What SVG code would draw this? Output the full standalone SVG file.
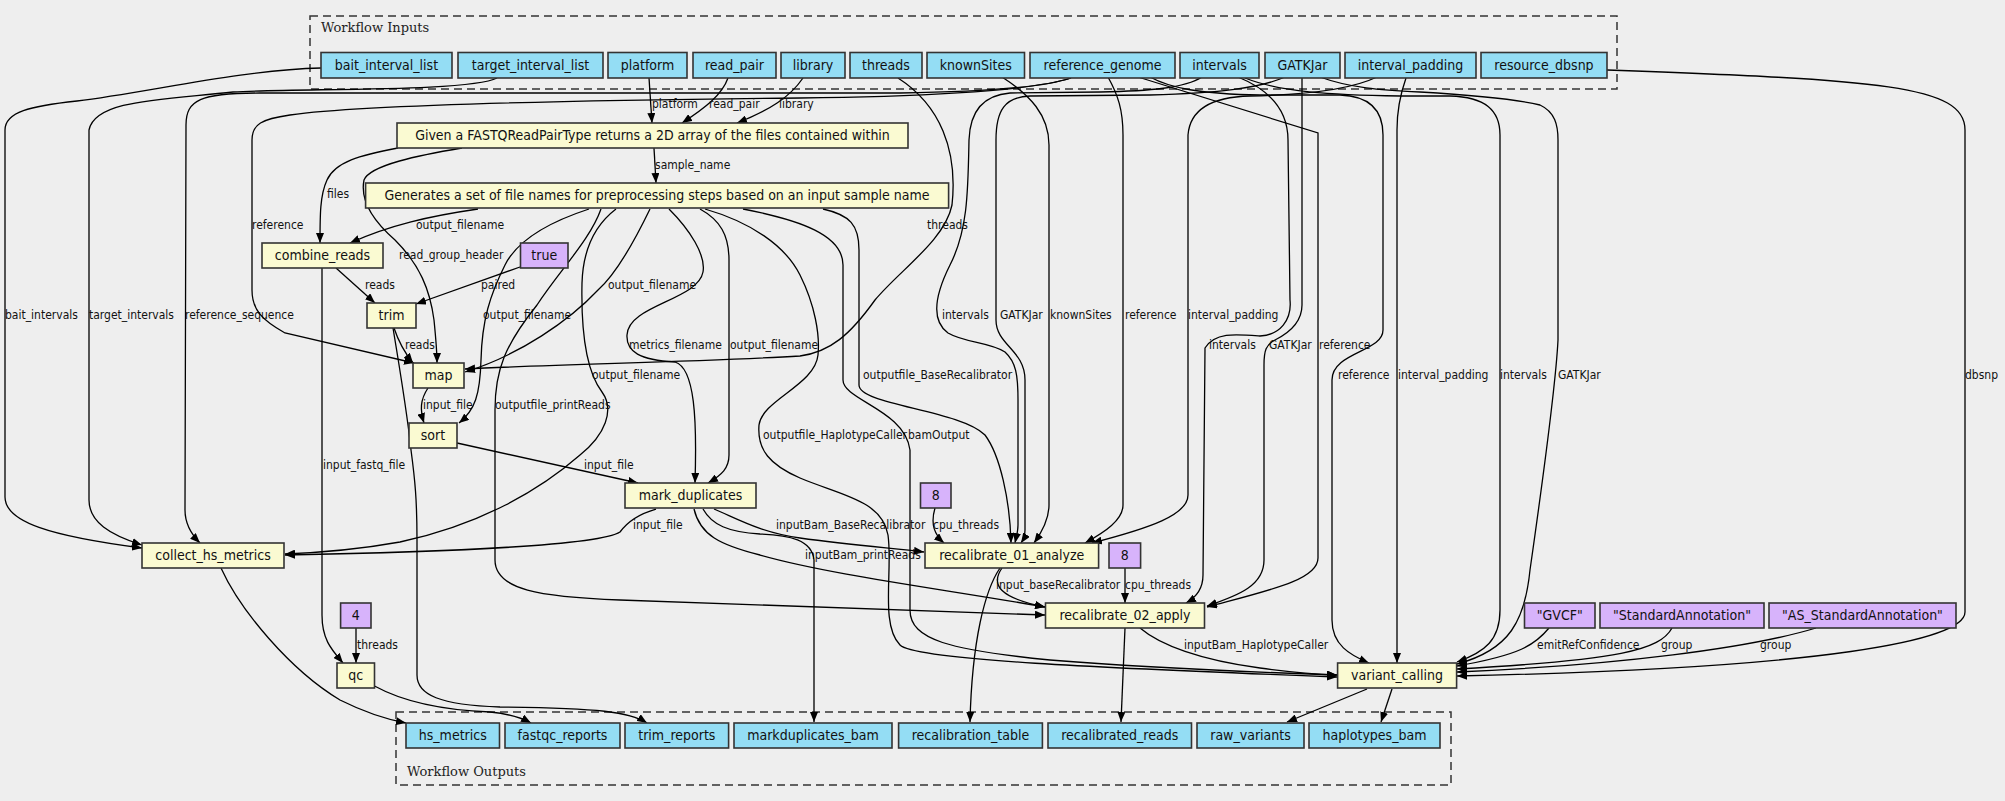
<svg xmlns="http://www.w3.org/2000/svg" width="2005" height="801" viewBox="0 0 2005 801">
<defs>
<marker id="ah" markerUnits="userSpaceOnUse" markerWidth="11" markerHeight="8" refX="10" refY="4" orient="auto">
<path d="M0,0 L10,4 L0,8 z" fill="#000"/>
</marker>
<style>
.bg{fill:#eeeeee}
.cl{fill:none;stroke:#333;stroke-width:1.5;stroke-dasharray:8,5}
.ct{font-family:"DejaVu Serif","Liberation Serif",serif;font-size:13px;fill:#222}
.n rect{stroke:#333;stroke-width:1.6}
.in rect{fill:#94ddf4}
.st rect{fill:#fafad2}
.co rect{fill:#d7b3fb}
.n text{font-family:"DejaVu Sans Condensed","DejaVu Sans",sans-serif;font-stretch:condensed;font-size:14px;text-anchor:middle;fill:#111}
#edges path{fill:none;stroke:#000;stroke-width:1.3;marker-end:url(#ah)}
#edges text{font-family:"DejaVu Sans Condensed","DejaVu Sans",sans-serif;font-stretch:condensed;font-size:12px;fill:#111}
</style>
</defs>
<rect class="bg" x="0" y="0" width="2005" height="801"/>
<g id="cluster_inputs">
<rect class="cl" x="310" y="16" width="1307" height="73"/>
<text class="ct" x="321" y="32">Workflow Inputs</text>
</g>
<g id="cluster_outputs">
<rect class="cl" x="396" y="712" width="1055" height="73"/>
<text class="ct" x="407" y="776">Workflow Outputs</text>
</g>
<g id="edges">
<path d="M321,68 C240,70 150,92 77,101 C30,106 5,112 5,130 L5,497 C5,522 50,536 142,548"/>
<text x="5" y="319">bait_intervals</text>
<path d="M497,78 C470,92 300,88 233,92 C160,100 95,100 89,130 L89,500 C89,522 110,535 142,545"/>
<text x="89" y="319">target_intervals</text>
<path d="M1071,78 C1040,88 980,92 900,93 L260,93 C200,93 186,100 186,125 L185,510 C185,525 192,535 200,543"/>
<text x="185" y="319">reference_sequence</text>
<path d="M1071,78 C1030,92 900,97 800,98 C600,100 360,105 290,115 C262,119 252,124 252,140 L252,290 C252,310 262,320 285,333 L414,363"/>
<text x="252" y="229">reference</text>
<path d="M649,78 L652,123"/>
<text x="652" y="108">platform</text>
<path d="M728,78 C722,95 705,108 682,123"/>
<text x="709" y="108">read_pair</text>
<path d="M803,78 C790,97 770,110 737,123"/>
<text x="779" y="108">library</text>
<path d="M654,148 L656,183"/>
<text x="655" y="169">sample_name</text>
<path d="M398,148 C360,155 335,162 327,180 C320,195 320,215 320,243"/>
<text x="327" y="198">files</text>
<path d="M462,148 C420,155 370,165 364,180 C360,200 372,220 395,240 C420,265 430,290 434,320 C436,340 437,350 437,363"/>
<text x="399" y="259">read_group_header</text>
<path d="M478,209 C430,216 390,225 350,243"/>
<text x="416" y="229">output_filename</text>
<path d="M520,267 L416,304"/>
<text x="481" y="289">paired</text>
<path d="M336,268 L375,303"/>
<text x="365" y="289">reads</text>
<path d="M322,268 L322,615 C322,640 332,650 343,663"/>
<text x="323" y="469">input_fastq_file</text>
<path d="M394,328 C398,340 404,352 413,363"/>
<text x="405" y="349">reads</text>
<path d="M393,328 C400,370 408,420 411,450 C415,480 417,500 417,540 L417,675 C417,695 440,705 500,707 C600,708 630,712 647,723"/>
<path d="M428,388 C420,400 420,410 424,423"/>
<text x="423" y="409">input_file</text>
<path d="M457,443 L638,483"/>
<text x="584" y="469">input_file</text>
<path d="M650,209 C635,240 615,275 598,290 C570,320 520,355 465,372"/>
<text x="608" y="289">output_filename</text>
<path d="M898,78 C940,105 958,150 952,205 C945,240 900,270 875,300 C850,335 830,352 800,356 C700,362 560,364 465,369"/>
<text x="927" y="229">threads</text>
<path d="M589,209 C540,225 515,245 505,265 C490,295 482,320 481,360 C480,395 475,410 459,423"/>
<text x="483" y="319">output_filename</text>
<path d="M616,209 C595,225 583,250 582,283 C581,330 585,370 602,392 C615,410 605,435 580,455 C540,490 480,525 400,542 C350,551 310,553 285,554"/>
<text x="592" y="379">output_filename</text>
<path d="M601,209 C590,240 560,270 537,305 C505,345 495,370 495,410 L495,560 C495,590 540,597 620,600 C800,607 950,612 1045,615"/>
<text x="495" y="409">outputfile_printReads</text>
<path d="M669,209 C690,230 706,255 703,272 C698,300 628,305 627,335 C626,352 640,360 675,362 C695,368 697,420 695,483"/>
<text x="629" y="349">metrics_filename</text>
<path d="M700,209 C720,220 729,235 729,260 L729,455 C729,468 722,475 708,483"/>
<text x="730" y="349">output_filename</text>
<path d="M705,209 C750,222 785,245 800,275 C815,305 820,335 818,355 C815,385 762,400 759,425 C757,450 770,465 800,478 C840,495 882,500 888,535 C893,570 880,625 900,645 C915,660 1100,668 1337,677"/>
<text x="763" y="439">outputfile_HaplotypeCaller</text>
<path d="M743,209 C800,220 843,235 843,265 L843,380 C843,400 905,410 910,450 L910,610 C910,640 950,650 1050,660 C1150,668 1250,672 1337,675"/>
<text x="908" y="439">bamOutput</text>
<path d="M823,209 C850,215 859,225 859,250 L859,385 C859,405 960,410 985,435 C1000,455 1010,500 1011,543"/>
<text x="863" y="379">outputfile_BaseRecalibrator</text>
<path d="M935,508 C930,525 935,535 944,543"/>
<text x="933" y="529">cpu_threads</text>
<path d="M656,509 C635,515 625,525 620,532 C600,545 450,552 285,555"/>
<text x="633" y="529">input_file</text>
<path d="M714,509 C740,520 760,532 800,538 C850,545 890,548 924,552"/>
<text x="776" y="529">inputBam_BaseRecalibrator</text>
<path d="M694,509 C700,535 720,545 760,555 C830,575 950,590 1045,607"/>
<text x="805" y="559">inputBam_printReads</text>
<path d="M703,509 C712,525 728,532 760,534 C790,535 812,540 814,560 L814,722"/>
<path d="M221,568 C240,610 290,670 340,700 C370,715 390,720 406,723"/>
<path d="M356,628 L356,663"/>
<text x="357" y="649">threads</text>
<path d="M374.5,686 C400,700 440,710 490,712 C510,714 522,718 531,723"/>
<path d="M1002,568 C990,585 1000,598 1045,607"/>
<text x="996" y="589">input_baseRecalibrator</text>
<path d="M1000,568 C985,590 972,640 970,722"/>
<path d="M1125,568 L1125,603"/>
<text x="1125" y="589">cpu_threads</text>
<path d="M1125,628 L1121,722"/>
<path d="M1140,628 C1160,645 1200,660 1260,668 C1290,672 1310,674 1337,675"/>
<text x="1184" y="649">inputBam_HaplotypeCaller</text>
<path d="M1367,689 L1287,722"/>
<path d="M1392,689 L1381,722"/>
<path d="M1549,628 C1535,645 1520,655 1457,666"/>
<text x="1537" y="649">emitRefConfidence</text>
<path d="M1672,628 C1660,650 1620,660 1457,669"/>
<text x="1661" y="649">group</text>
<path d="M1816,628 C1750,648 1620,665 1457,672"/>
<text x="1760" y="649">group</text>
<path d="M1607,70 C1880,80 1965,85 1965,130 L1965,612 C1965,640 1830,668 1457,676"/>
<text x="1965" y="379">dbsnp</text>
<path d="M1202,77 C1185,88 1150,91 1100,92 L1010,93 C985,95 970,110 969,140 C968,190 968,230 950,265 C935,295 930,320 948,333 C965,343 990,342 1005,352 C1016,362 1018,375 1018,400 L1018,525 C1018,532 1016,538 1015,543"/>
<text x="942" y="319">intervals</text>
<path d="M1285,77 C1260,88 1220,93 1150,95 L1030,96 C1005,97 996,110 996,140 L996,320 C996,345 1025,350 1025,380 L1025,530 C1025,536 1023,540 1021,543"/>
<text x="1000" y="319">GATKJar</text>
<path d="M1002,77 C1030,95 1049,115 1049,145 L1049,505 C1049,520 1042,532 1034,543"/>
<text x="1050" y="319">knownSites</text>
<path d="M1108,77 C1118,95 1123,110 1123,135 L1123,505 C1123,520 1105,532 1085,543"/>
<text x="1125" y="319">reference</text>
<path d="M1377,77 C1350,90 1300,95 1250,96 C1210,97 1190,110 1188,135 L1188,495 C1188,515 1150,528 1092,543"/>
<text x="1188" y="319">interval_padding</text>
<path d="M1138,77 L1318,133 L1318,558 C1318,580 1270,590 1207,607"/>
<text x="1319" y="349">reference</text>
<path d="M1238,77 C1270,90 1288,110 1288,140 L1290,300 C1292,320 1280,335 1260,336 C1235,334 1215,332 1205,348 L1203,575 C1203,590 1195,598 1186,603"/>
<text x="1209" y="349">intervals</text>
<path d="M1302,78 L1302,305 C1302,325 1285,335 1275,340 C1266,345 1264,350 1264,365 L1264,560 C1264,585 1240,595 1207,606"/>
<text x="1269" y="349">GATKJar</text>
<path d="M1150,77 C1170,88 1200,94 1260,95 L1340,95 C1370,96 1383,110 1383,135 L1383,330 C1383,352 1332,352 1332,380 L1332,620 C1332,645 1350,655 1369,663"/>
<text x="1338" y="379">reference</text>
<path d="M1406,78 C1400,95 1397,110 1397,130 L1397,663"/>
<text x="1398" y="379">interval_padding</text>
<path d="M1245,78 C1280,92 1330,95 1400,96 L1450,96 C1485,97 1500,110 1500,135 L1500,610 C1500,640 1485,652 1457,662"/>
<text x="1500" y="379">intervals</text>
<path d="M1320,77 C1350,88 1380,90 1420,92 C1470,95 1520,100 1540,105 C1555,112 1558,125 1558,140 L1558,340 C1556,380 1540,500 1530,570 C1525,620 1510,650 1457,664"/>
<text x="1558" y="379">GATKJar</text>
</g>
<g id="n_bait_interval_list" class="n in"><rect x="321" y="52.5" width="131" height="25.5"/><text x="386.5" y="70">bait_interval_list</text></g>
<g id="n_target_interval_list" class="n in"><rect x="458" y="52.5" width="145" height="25.5"/><text x="530.5" y="70">target_interval_list</text></g>
<g id="n_platform" class="n in"><rect x="608" y="52.5" width="79" height="25.5"/><text x="647.5" y="70">platform</text></g>
<g id="n_read_pair" class="n in"><rect x="693" y="52.5" width="83" height="25.5"/><text x="734.5" y="70">read_pair</text></g>
<g id="n_library" class="n in"><rect x="781" y="52.5" width="64" height="25.5"/><text x="813" y="70">library</text></g>
<g id="n_threads" class="n in"><rect x="850" y="52.5" width="72" height="25.5"/><text x="886" y="70">threads</text></g>
<g id="n_knownSites" class="n in"><rect x="927" y="52.5" width="97.5" height="25.5"/><text x="975.75" y="70">knownSites</text></g>
<g id="n_reference_genome" class="n in"><rect x="1030" y="52.5" width="145" height="25.5"/><text x="1102.5" y="70">reference_genome</text></g>
<g id="n_intervals" class="n in"><rect x="1180" y="52.5" width="79" height="25.5"/><text x="1219.5" y="70">intervals</text></g>
<g id="n_GATKJar" class="n in"><rect x="1265" y="52.5" width="75" height="25.5"/><text x="1302.5" y="70">GATKJar</text></g>
<g id="n_interval_padding" class="n in"><rect x="1345" y="52.5" width="131" height="25.5"/><text x="1410.5" y="70">interval_padding</text></g>
<g id="n_resource_dbsnp" class="n in"><rect x="1481" y="52.5" width="126" height="25.5"/><text x="1544" y="70">resource_dbsnp</text></g>
<g id="n_fastq" class="n st"><rect x="397" y="123" width="511" height="25"/><text x="652.5" y="140">Given a FASTQReadPairType returns a 2D array of the files contained within</text></g>
<g id="n_generate_names" class="n st"><rect x="365.6" y="183" width="583" height="25"/><text x="657" y="200">Generates a set of file names for preprocessing steps based on an input sample name</text></g>
<g id="n_combine_reads" class="n st"><rect x="262" y="243" width="121" height="25"/><text x="322.5" y="260">combine_reads</text></g>
<g id="n_true" class="n co"><rect x="520.5" y="243" width="47.5" height="25"/><text x="544.25" y="260">true</text></g>
<g id="n_trim" class="n st"><rect x="367" y="303" width="49" height="25"/><text x="391.5" y="320">trim</text></g>
<g id="n_map" class="n st"><rect x="413" y="363" width="51" height="25"/><text x="438.5" y="380">map</text></g>
<g id="n_sort" class="n st"><rect x="409" y="423" width="48" height="25"/><text x="433" y="440">sort</text></g>
<g id="n_mark_duplicates" class="n st"><rect x="625" y="483" width="131" height="25"/><text x="690.5" y="500">mark_duplicates</text></g>
<g id="n_const8a" class="n co"><rect x="920.5" y="483" width="30.5" height="25"/><text x="935.75" y="500">8</text></g>
<g id="n_collect_hs_metrics" class="n st"><rect x="142" y="543" width="142" height="25"/><text x="213" y="560">collect_hs_metrics</text></g>
<g id="n_recalibrate_01_analyze" class="n st"><rect x="925" y="543" width="173.6" height="25"/><text x="1011.8" y="560">recalibrate_01_analyze</text></g>
<g id="n_const8b" class="n co"><rect x="1109" y="543" width="31.6" height="25"/><text x="1124.8" y="560">8</text></g>
<g id="n_const4" class="n co"><rect x="340.6" y="603" width="30.4" height="25"/><text x="355.8" y="620">4</text></g>
<g id="n_recalibrate_02_apply" class="n st"><rect x="1045.5" y="603" width="159" height="25"/><text x="1125" y="620">recalibrate_02_apply</text></g>
<g id="n_gvcf" class="n co"><rect x="1524.5" y="603" width="70.5" height="25"/><text x="1559.75" y="620">"GVCF"</text></g>
<g id="n_std_annot" class="n co"><rect x="1600" y="603" width="164" height="25"/><text x="1682" y="620">"StandardAnnotation"</text></g>
<g id="n_as_std_annot" class="n co"><rect x="1769" y="603" width="187" height="25"/><text x="1862.5" y="620">"AS_StandardAnnotation"</text></g>
<g id="n_qc" class="n st"><rect x="337" y="663" width="37.5" height="25"/><text x="355.75" y="680">qc</text></g>
<g id="n_variant_calling" class="n st"><rect x="1337.6" y="663" width="119" height="25"/><text x="1397" y="680">variant_calling</text></g>
<g id="n_hs_metrics" class="n in"><rect x="406" y="723" width="93.5" height="25"/><text x="452.75" y="740">hs_metrics</text></g>
<g id="n_fastqc_reports" class="n in"><rect x="505" y="723" width="115" height="25"/><text x="562.5" y="740">fastqc_reports</text></g>
<g id="n_trim_reports" class="n in"><rect x="625" y="723" width="103.6" height="25"/><text x="676.8" y="740">trim_reports</text></g>
<g id="n_markduplicates_bam" class="n in"><rect x="734" y="723" width="158" height="25"/><text x="813" y="740">markduplicates_bam</text></g>
<g id="n_recalibration_table" class="n in"><rect x="898.6" y="723" width="143.8" height="25"/><text x="970.5" y="740">recalibration_table</text></g>
<g id="n_recalibrated_reads" class="n in"><rect x="1048" y="723" width="143.5" height="25"/><text x="1119.75" y="740">recalibrated_reads</text></g>
<g id="n_raw_variants" class="n in"><rect x="1197" y="723" width="107" height="25"/><text x="1250.5" y="740">raw_variants</text></g>
<g id="n_haplotypes_bam" class="n in"><rect x="1309" y="723" width="131" height="25"/><text x="1374.5" y="740">haplotypes_bam</text></g>
</svg>
